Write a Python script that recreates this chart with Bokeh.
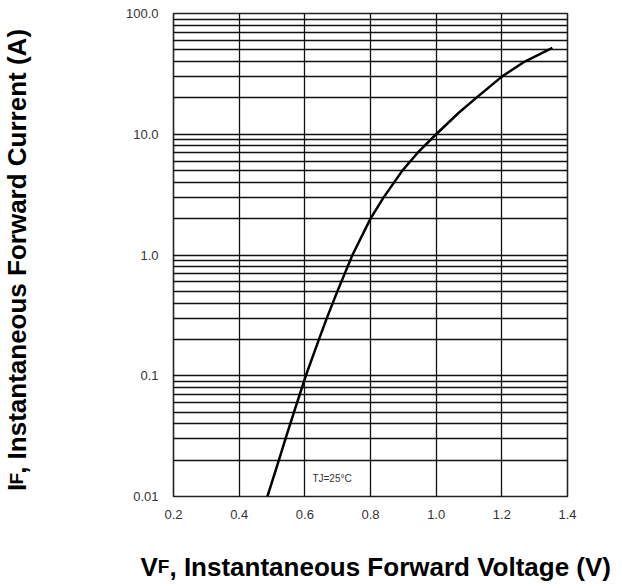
import math
from bokeh.plotting import figure
from bokeh.layouts import row, column
from bokeh.models import FixedTicker, Label
from bokeh.core.properties import value
from bokeh.embed import file_html
from bokeh.resources import INLINE

# ---- data ----
vf = [0.486, 0.521, 0.541, 0.567, 0.603, 0.643, 0.667, 0.699, 0.745, 0.800,
      0.840, 0.897, 0.943, 1.000, 1.068, 1.122, 1.200, 1.270, 1.354]
i_f = [0.01, 0.02, 0.03, 0.05, 0.1, 0.2, 0.3, 0.5, 1.0, 2.0,
       3.0, 5.0, 7.0, 10.0, 15.0, 20.0, 30.0, 40.0, 52.0]

x_ticks = [0.2, 0.4, 0.6, 0.8, 1.0, 1.2, 1.4]
x_tick_labels = ["0.2", "0.4", "0.6", "0.8", "1.0", "1.2", "1.4"]
y_ticks = [0.01, 0.1, 1.0, 10.0, 100.0]
y_tick_labels = ["0.01", "0.1", "1.0", "10.0", "100.0"]
minor_steps = [2, 3, 4, 5, 6, 7, 8, 9]

note_text = "TJ=25°C"
note_x, note_y = 0.623, 0.0140

x_title = ["V", "F", ", Instantaneous Forward Voltage (V)"]
y_title = ["I", "F", ", Instantaneous Forward Current (A)"]

FONT = "Liberation Sans"
BIG, SMALL = 26, 19

# ---- main plot ----
p = figure(width=580, height=530, frame_width=394, frame_height=483,
           x_range=(0.2, 1.4), y_range=(0.01, 100), y_axis_type="log",
           output_backend="svg", toolbar_location=None,
           min_border_left=133, min_border_right=53,
           min_border_top=13, min_border_bottom=34)
p.background_fill_color = "white"
p.border_fill_color = "white"
p.outline_line_color = "#222222"
p.outline_line_width = 1.6

minor = [d * k for d in y_ticks[:-1] for k in minor_steps]
p.yaxis.ticker = FixedTicker(ticks=y_ticks, minor_ticks=minor)
p.xaxis.ticker = FixedTicker(ticks=x_ticks)
p.yaxis.major_label_overrides = dict(zip(y_ticks, y_tick_labels))
p.xaxis.major_label_overrides = dict(zip(x_ticks, x_tick_labels))

for ax in (p.xaxis, p.yaxis):
    ax.axis_line_color = None
    ax.major_tick_line_color = None
    ax.minor_tick_line_color = None
    ax.major_tick_out = 0
    ax.major_tick_in = 0
    ax.major_label_text_font = FONT
    ax.major_label_text_font_size = "13px"
    ax.major_label_text_color = "#333333"
p.yaxis.major_label_standoff = 11
p.xaxis.major_label_standoff = 13

p.xgrid.grid_line_color = "#111111"
p.xgrid.grid_line_width = 1.3
p.ygrid.grid_line_color = "#111111"
p.ygrid.grid_line_width = 1.3
p.ygrid.minor_grid_line_color = "#111111"
p.ygrid.minor_grid_line_width = 1.3

p.line(vf, i_f, line_color="black", line_width=2.5, line_join="round")

p.add_layout(Label(x=note_x, y=note_y, text=note_text, text_font=FONT,
                   text_font_size="10px", text_color="#333333",
                   text_baseline="alphabetic"))


def bare(w, h):
    f = figure(width=w, height=h, x_range=(0, w), y_range=(0, h),
               output_backend="svg", toolbar_location=None,
               x_axis_location=None, y_axis_location=None,
               min_border=0, min_border_left=0, min_border_right=0,
               min_border_top=0, min_border_bottom=0)
    f.outline_line_color = None
    f.grid.visible = False
    f.background_fill_color = "white"
    f.border_fill_color = "white"
    return f


sizes = [BIG, SMALL, BIG]

# ---- y title panel (rotated text) ----
yf = bare(40, 530)
yb = 16.0
ys = 6.0
adv = [0.278 * BIG, 0.611 * SMALL, 0]
for piece, sz, a in zip(y_title, sizes, adv):
    yf.text(x=[yb], y=[ys], text=[piece], angle=math.pi / 2,
            text_font=value(FONT), text_font_style="bold",
            text_font_size=f"{sz}px", text_align="left",
            text_baseline="alphabetic", text_color="black")
    ys += a

# ---- x title panel ----
xf = bare(620, 54)
xs = 140.0
xbase = 18.0
adv = [0.667 * BIG, 0.611 * SMALL, 0]
for piece, sz, a in zip(x_title, sizes, adv):
    xf.text(x=[xs], y=[xbase], text=[piece],
            text_font=value(FONT), text_font_style="bold",
            text_font_size=f"{sz}px", text_align="left",
            text_baseline="alphabetic", text_color="black")
    xs += a

layout = column(row(yf, p, spacing=0), xf, spacing=0)

open("out.html", "w").write(file_html(layout, INLINE))
